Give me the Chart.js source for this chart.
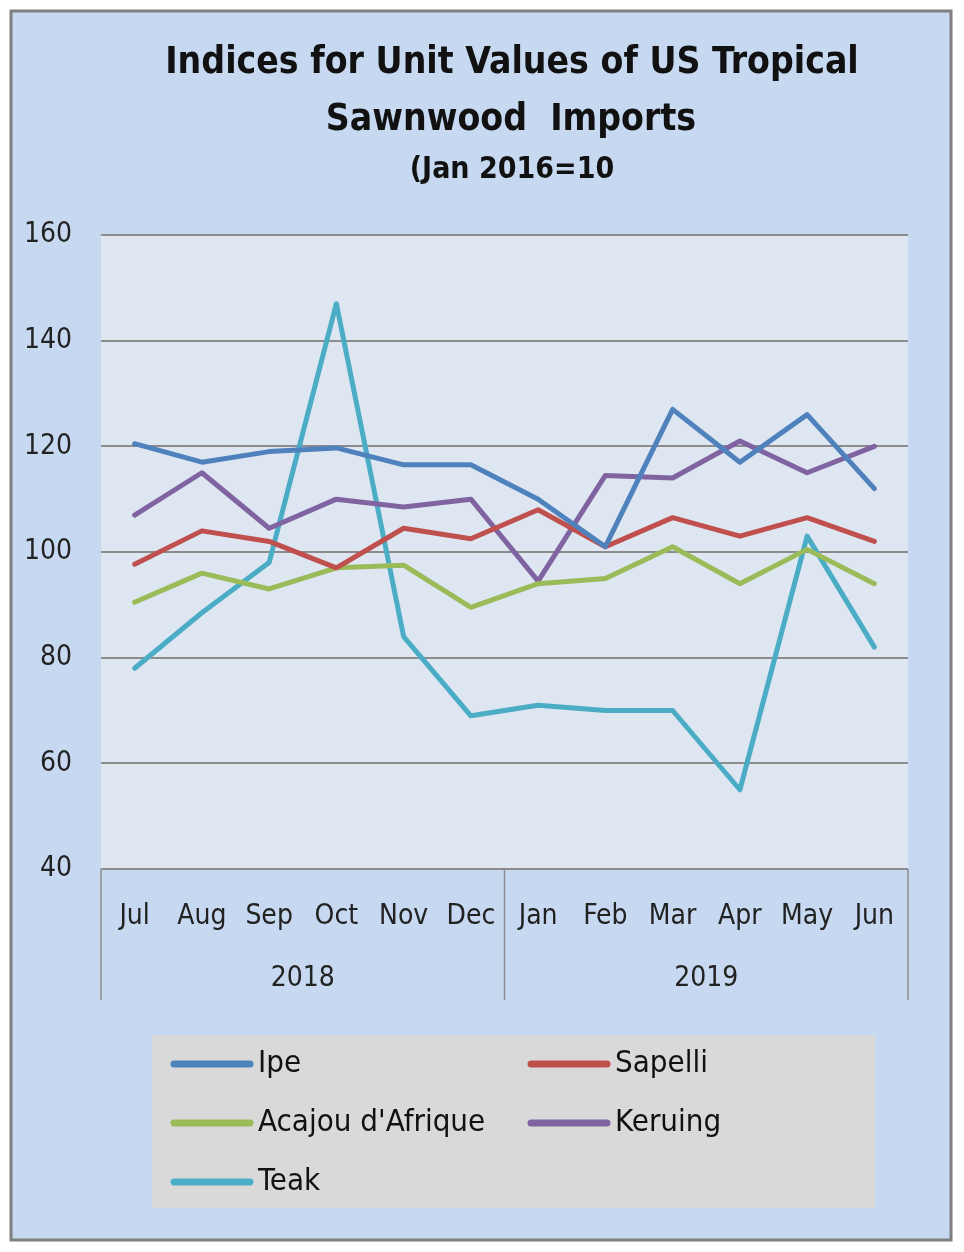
<!DOCTYPE html>
<html>
<head>
<meta charset="utf-8">
<script src="https://cdn.jsdelivr.net/npm/chart.js@4"></script>
<style>
    body { margin: 0; background: #fff; }
    #wrap { width: 964px; height: 1252px; }
</style>
</head>
<body>
<div id="wrap"><canvas id="importChart" width="964" height="1252"></canvas></div>
<script>
// Data
const months = ['Jul', 'Aug', 'Sep', 'Oct', 'Nov', 'Dec', 'Jan', 'Feb', 'Mar', 'Apr', 'May', 'Jun'];
const years = ['2018', '2019'];
const yTicks = [40, 60, 80, 100, 120, 140, 160];

const ipe     = [120.5, 117, 119, 119.7, 116.5, 116.5, 110, 101, 127, 117, 126, 112];
const sapelli = [97.7, 104, 102, 97, 104.5, 102.5, 108, 101, 106.5, 103, 106.5, 102];
const acajou  = [90.5, 96, 93, 97, 97.5, 89.5, 94, 95, 101, 94, 100.5, 94];
const keruing = [107, 115, 104.5, 110, 108.5, 110, 94.5, 114.5, 114, 121, 115, 120];
const teak    = [78, 88.5, 98, 147, 84, 69, 71, 70, 70, 55, 103, 82];

const titleLines = ['Indices for Unit Values of US Tropical', 'Sawnwood  Imports'];
const subTitle = '(Jan 2016=10';

const FONT = "'Liberation Sans Narrow', 'DejaVu Sans Condensed', sans-serif";

// Frame, plot background
const backdrop = {
    id: 'backdrop',
    beforeDraw(chart) {
        const ctx = chart.ctx;
        const a = chart.chartArea;
        ctx.save();
        ctx.fillStyle = '#ffffff';
        ctx.fillRect(0, 0, chart.width, chart.height);
        ctx.fillStyle = '#c6d9f1';
        ctx.fillRect(11, 11, 940, 1229);
        ctx.strokeStyle = '#7f7f7f';
        ctx.lineWidth = 3;
        ctx.strokeRect(11, 11, 940, 1229);
        ctx.fillStyle = '#dde6f1';
        ctx.fillRect(a.left, a.top, a.right - a.left, a.bottom - a.top);
        ctx.restore();
    }
};

// Title block, centred on the frame rather than the plot
const heading = {
    id: 'heading',
    afterDraw(chart) {
        const ctx = chart.ctx;
        ctx.save();
        ctx.fillStyle = '#111';
        ctx.textAlign = 'center';
        ctx.textBaseline = 'middle';
        ctx.font = 'bold 37px ' + FONT;
        ctx.fillText(titleLines[0], 512, 63);
        ctx.fillText(titleLines[1], 511, 120);
        ctx.font = 'bold 30px ' + FONT;
        ctx.fillText(subTitle, 512, 170);
        ctx.restore();
    }
};

// Group separators under the month axis
const separators = {
    id: 'separators',
    afterDraw(chart) {
        const ctx = chart.ctx;
        const x = chart.scales.x;
        const x2 = chart.scales.x2;
        const mid = (x.getPixelForValue(5) + x.getPixelForValue(6)) / 2;
        ctx.save();
        ctx.strokeStyle = '#8c8c8c';
        ctx.lineWidth = 1.5;
        [x.left, mid, x.right].forEach(function(px) {
            ctx.beginPath();
            ctx.moveTo(px, x.top);
            ctx.lineTo(px, x2.bottom);
            ctx.stroke();
        });
        ctx.restore();
    }
};

// Legend in a grey box, two columns
const boxLegend = {
    id: 'boxLegend',
    afterDraw(chart) {
        const ctx = chart.ctx;
        const cols = [170, 527];
        const rows = [1064, 1123, 1182];
        ctx.save();
        ctx.fillStyle = '#d9d9d9';
        ctx.fillRect(152, 1035, 723, 173);
        ctx.font = '31px ' + FONT;
        ctx.textBaseline = 'middle';
        ctx.lineCap = 'round';
        chart.data.datasets.forEach(function(ds, i) {
            const lx = cols[i % 2];
            const ly = rows[Math.floor(i / 2)];
            ctx.strokeStyle = ds.borderColor;
            ctx.lineWidth = 7;
            ctx.beginPath();
            ctx.moveTo(lx + 4, ly);
            ctx.lineTo(lx + 80, ly);
            ctx.stroke();
            ctx.fillStyle = '#111';
            ctx.fillText(ds.label, lx + 88, ly);
        });
        ctx.restore();
    }
};

function series(label, data, color) {
    return {
        label: label,
        data: data,
        borderColor: color,
        backgroundColor: color,
        borderWidth: 5,
        pointRadius: 0,
        tension: 0,
        borderCapStyle: 'round',
        borderJoinStyle: 'round'
    };
}

const ctx = document.getElementById('importChart').getContext('2d');
const importChart = new Chart(ctx, {
    type: 'line',
    data: {
        labels: months,
        datasets: [
            series('Ipe', ipe, '#4f81bd'),
            series('Sapelli', sapelli, '#c0504d'),
            series("Acajou d'Afrique", acajou, '#9bbb59'),
            series('Keruing', keruing, '#8064a2'),
            series('Teak', teak, '#4bacc6')
        ]
    },
    options: {
        responsive: false,
        animation: false,
        layout: {
            padding: { left: 0, right: 56, top: 235, bottom: 252 }
        },
        plugins: {
            legend: { display: false },
            tooltip: { enabled: false },
            title: { display: false }
        },
        scales: {
            x: {
                type: 'category',
                position: 'bottom',
                offset: true,
                weight: 0,
                grid: { display: false },
                border: { display: false },
                ticks: {
                    color: '#222',
                    font: { family: FONT, size: 28 },
                    padding: 23,
                    maxRotation: 0,
                    autoSkip: false
                },
                afterFit: function(scale) { scale.height = 62; }
            },
            x2: {
                type: 'category',
                labels: years,
                position: 'bottom',
                offset: true,
                weight: 1,
                grid: { display: false },
                border: { display: false },
                ticks: {
                    color: '#222',
                    font: { family: FONT, size: 28 },
                    padding: 23,
                    maxRotation: 0
                },
                afterFit: function(scale) { scale.height = 69; }
            },
            y: {
                min: 40,
                max: 160,
                afterBuildTicks: function(scale) {
                    scale.ticks = yTicks.map(function(v) { return { value: v }; });
                },
                grid: { color: '#8c8c8c', lineWidth: 2, drawTicks: false },
                border: { display: false },
                ticks: {
                    color: '#222',
                    font: { family: FONT, size: 28 },
                    padding: 29
                },
                afterFit: function(scale) { scale.width = 101; }
            }
        }
    },
    plugins: [backdrop, heading, separators, boxLegend]
});
</script>
</body>
</html>
